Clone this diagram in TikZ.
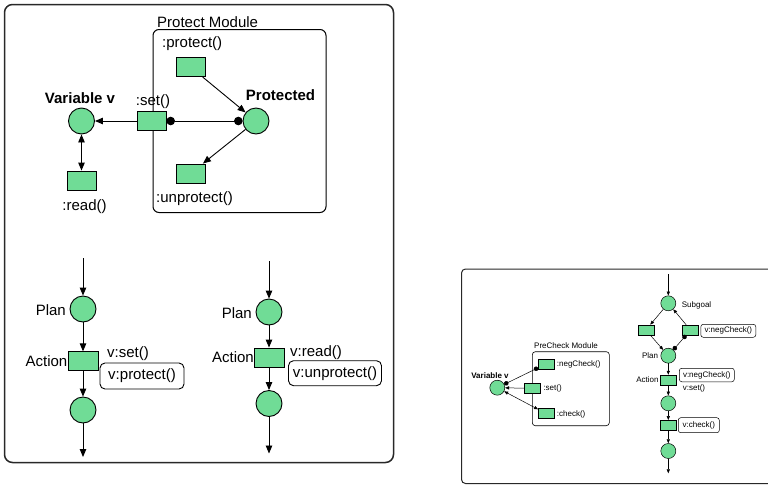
\documentclass[tikz,border=0pt]{standalone}
\usepackage{fontspec}
\setmainfont{Liberation Sans}
\usetikzlibrary{arrows.meta}
\definecolor{pn}{RGB}{112,220,150}
\definecolor{frm}{RGB}{40,40,40}
\begin{document}
\begin{tikzpicture}[x=1pt,y=-1pt,
  place/.style={circle,draw=black,fill=pn,line width=0.9pt,minimum size=26pt,inner sep=0pt},
  trans/.style={rectangle,draw=black,fill=pn,line width=0.9pt,minimum width=29pt,minimum height=19pt,inner sep=0pt},
  splace/.style={circle,draw=black,fill=pn,line width=0.5pt,minimum size=15pt,inner sep=0pt},
  strans/.style={rectangle,draw=black,fill=pn,line width=0.5pt,minimum width=16pt,minimum height=10pt,inner sep=0pt},
  lbl/.style={inner sep=0pt,font=\fontsize{15}{18}\selectfont},
  blbl/.style={inner sep=0pt,font=\fontsize{15}{18}\selectfont\bfseries},
  slbl/.style={inner sep=0pt,font=\fontsize{8}{10}\selectfont},
  sblbl/.style={inner sep=0pt,font=\fontsize{8}{10}\selectfont\bfseries},
  callbox/.style={lbl,draw=black,fill=white,rounded corners=5pt,line width=0.9pt},
  scallbox/.style={slbl,draw=black,fill=white,rounded corners=2.5pt,line width=0.5pt},
  modbox/.style={draw=black,rounded corners=6pt,line width=1pt,inner sep=0pt},
  smodbox/.style={draw=black,rounded corners=3pt,line width=0.6pt,inner sep=0pt},
  arc/.style={line width=0.9pt,-{Triangle[length=8pt,width=6.5pt]}},
  darc/.style={line width=0.9pt,{Triangle[length=8pt,width=6.5pt]}-{Triangle[length=8pt,width=6.5pt]}},
  dotarc/.style={line width=0.9pt,{Circle[length=8.5pt]}-{Circle[length=8.5pt]}},
  sarc/.style={line width=0.5pt,-{Triangle[length=4pt,width=3.2pt]}},
  sdarc/.style={line width=0.5pt,{Triangle[length=4pt,width=3.2pt]}-{Triangle[length=4pt,width=3.2pt]}},
  sdotarc/.style={line width=0.5pt,{Circle[length=4.5pt]}-{Circle[length=4.5pt]}},
  frame/.style={draw=frm,line width=1.5pt,rounded corners=8pt},
  sframe/.style={draw=frm,line width=1pt,rounded corners=4pt}
]
\useasboundingbox (0,0) rectangle (768,485);
\clip (0,0) rectangle (768,485);

% ---------------- left panel ----------------
\draw[frame] (4.5,4.5) rectangle (393.5,462.5);

\node[modbox,minimum width=173pt,minimum height=183pt] (pm) at (239.5,121) {};
\node[lbl,anchor=west] (pmlab) at (157,22) {Protect Module};

\node[place] (var) at (81.5,121) {};
\node[blbl] (varlab) at (80,98) {Variable v};
\node[trans] (rd) at (81.5,180.5) {};
\node[lbl] (rdlab) at (84.5,207) {:read()};

\node[trans] (set) at (151.5,121) {};
\node[lbl] (setlab) at (153,102) {:set()};

\node[trans] (pr) at (190.5,67) {};
\node[lbl,anchor=west] (prlab) at (162,44) {:protect()};

\node[place] (prot) at (256,121) {};
\node[blbl] (protlab) at (280.5,95) {Protected};

\node[trans] (up) at (190.5,173.5) {};
\node[lbl,anchor=west] (uplab) at (156,199) {:unprotect()};

\draw[arc] (set) -- (var);
\draw[darc] (var) -- (rd);
\draw[dotarc] (set) -- (prot);
\draw[arc] (pr) -- (prot);
\draw[arc] (prot) -- (up);

% bottom-left flow
\coordinate (a0) at (83,258);
\node[place] (p1) at (83,309) {};
\node[trans,minimum width=30pt] (t1) at (83,361.3) {};
\node[place] (p2) at (83,410) {};
\coordinate (a1) at (83,457);
\node[lbl,anchor=east] (p1lab) at (66,310) {Plan};
\node[lbl,anchor=east] (t1lab) at (67.5,361) {Action};
\node[lbl,anchor=west] (t1set) at (107,354) {v:set()};
\node[callbox,minimum width=84pt,minimum height=26pt] (t1box) at (142,376) {v:protect()};
\draw[arc] (a0) -- (p1);
\draw[arc] (p1) -- (t1);
\draw[arc] (t1) -- (p2);
\draw[arc] (p2) -- (a1);

% bottom-right flow
\coordinate (a2) at (269,261);
\node[place] (p3) at (269,312) {};
\node[trans,minimum width=30pt] (t2) at (269,357.5) {};
\node[place] (p4) at (269,403.5) {};
\coordinate (a3) at (269,453.5);
\node[lbl,anchor=east] (p3lab) at (252,313) {Plan};
\node[lbl,anchor=east] (t2lab) at (254,357) {Action};
\node[lbl,anchor=west] (t2read) at (290,353) {v:read()};
\node[callbox,minimum width=93pt,minimum height=25pt] (t2box) at (335,373.2) {v:unprotect()};
\draw[arc] (a2) -- (p3);
\draw[arc] (p3) -- (t2);
\draw[arc] (t2) -- (p4);
\draw[arc] (p4) -- (a3);

% ---------------- right panel ----------------
\draw[sframe] (461.5,269) rectangle (800,483.5);

\node[smodbox,minimum width=77pt,minimum height=74pt] (pc) at (570.8,388.7) {};
\node[slbl,anchor=west] (pclab) at (534,346) {PreCheck Module};

\node[splace] (vv) at (497.3,387.7) {};
\node[sblbl] (vvlab) at (490,376) {Variable v};

\node[strans] (nc) at (546.3,363.8) {};
\node[slbl,anchor=west] (nclab) at (556.7,364) {:negCheck()};
\node[strans] (st2) at (532,388.3) {};
\node[slbl,anchor=west] (st2lab) at (543.3,388) {:set()};
\node[strans] (ck) at (546.3,413.7) {};
\node[slbl,anchor=west] (cklab) at (556.7,414) {:check()};

\draw[sdotarc] (nc) -- (vv);
\draw[sarc] (st2) -- (vv);
\draw[sdarc] (ck) -- (vv);

% subgoal flow
\coordinate (a4) at (668.3,274);
\node[splace] (sg) at (668.3,303.3) {};
\node[slbl,anchor=west] (sglab) at (681.7,305) {Subgoal};
\node[strans] (lt) at (645.8,330) {};
\node[strans] (rt) at (690.5,330) {};
\node[scallbox,minimum width=55pt,minimum height=13pt] (rtbox) at (728.3,330.8) {v:negCheck()};
\node[splace] (pl) at (668.3,355.7) {};
\node[slbl,anchor=east] (pllab) at (658.3,355.7) {Plan};
\node[strans] (act) at (668.3,380) {};
\node[slbl,anchor=east] (actlab) at (658.7,380) {Action};
\node[scallbox,minimum width=55pt,minimum height=13.5pt] (actbox) at (706.8,375) {v:negCheck()};
\node[slbl,anchor=west] (actset) at (682.7,388) {v:set()};
\node[splace] (c3) at (668.3,403.3) {};
\node[strans] (ckt) at (668.3,425.3) {};
\node[scallbox,minimum width=41pt,minimum height=15pt] (cktbox) at (698.8,425.2) {v:check()};
\node[splace] (c4) at (668.3,451) {};
\coordinate (a5) at (668.3,473.3);

\draw[sarc] (a4) -- (sg);
\draw[sarc] (sg) -- (lt);
\draw[sarc] (lt) -- (pl);
\draw[sarc] (rt) -- (sg);
\draw[sdotarc] (rt) -- (pl);
\draw[sarc] (pl) -- (act);
\draw[sarc] (act) -- (c3);
\draw[sarc] (c3) -- (ckt);
\draw[sarc] (ckt) -- (c4);
\draw[sarc] (c4) -- (a5);
\end{tikzpicture}
\end{document}
